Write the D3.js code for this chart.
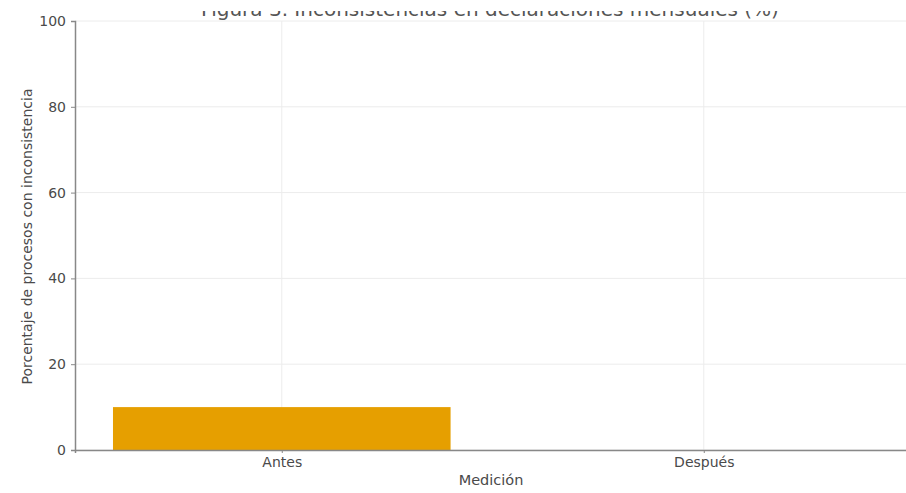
<!DOCTYPE html>
<html>
<head>
<meta charset="utf-8">
<script src="https://cdn.jsdelivr.net/npm/d3@7"></script>
<style>
  body { margin: 0; background: #fff; }
  text { font-family: "DejaVu Sans", sans-serif; }
</style>
</head>
<body>
<div id="chart"></div>
<script>
// data
var categories = ["Antes", "Después"];
var values = [10, 0];
var yTicks = [0, 20, 40, 60, 80, 100];
var titleText = "Figura 3. Inconsistencias en declaraciones mensuales (%)";
var xLabel = "Medición";
var yLabel = "Porcentaje de procesos con inconsistencia";

var width = 906, height = 493;
var plotLeft = 75, plotTop = 21, plotBottom = 450;

var svg = d3.select("#chart").append("svg")
    .attr("width", width)
    .attr("height", height);

// matplotlib-like linear x: bars at 0 and 1, xlim -0.49..1.49
var x = d3.scaleLinear().domain([-0.49, 1.49]).range([plotLeft, plotLeft + 1.98 * 422]);
var y = d3.scaleLinear().domain([0, 100]).range([plotBottom, plotTop]);
var barW = 0.8;

// grid
svg.append("g").selectAll("line")
    .data(yTicks)
    .enter().append("line")
    .attr("x1", plotLeft).attr("x2", width)
    .attr("y1", function (d) { return y(d); })
    .attr("y2", function (d) { return y(d); })
    .attr("stroke", "#ececec").attr("stroke-width", 1);

svg.append("g").selectAll("line")
    .data(categories)
    .enter().append("line")
    .attr("x1", function (d, i) { return x(i); })
    .attr("x2", function (d, i) { return x(i); })
    .attr("y1", plotTop).attr("y2", plotBottom)
    .attr("stroke", "#ececec").attr("stroke-width", 1);

// bars
svg.append("g").selectAll("rect")
    .data(values)
    .enter().append("rect")
    .attr("x", function (d, i) { return x(i - barW / 2); })
    .attr("width", function () { return x(barW) - x(0); })
    .attr("y", function (d) { return y(d); })
    .attr("height", function (d) { return y(0) - y(d); })
    .attr("fill", "#E69F00");

// y axis
var yAxis = d3.axisLeft(y).tickValues(yTicks).tickSize(4).tickPadding(5);
var gy = svg.append("g").attr("transform", "translate(" + plotLeft + ",0)").call(yAxis);
gy.select(".domain").attr("stroke", "#888").attr("stroke-width", 1.5);
gy.selectAll(".tick line").attr("stroke", "#888");
gy.selectAll(".tick text").attr("font-size", 14).attr("fill", "#4a4a4a")
    .attr("font-family", "DejaVu Sans");

// x axis
var xAxis = d3.axisBottom(x).tickValues([0, 1])
    .tickFormat(function (d) { return categories[d]; })
    .tickSize(3).tickPadding(4);
var gx = svg.append("g").attr("transform", "translate(0," + plotBottom + ")").call(xAxis);
gx.select(".domain").attr("stroke", "#888").attr("stroke-width", 1.5);
gx.selectAll(".tick line").attr("stroke", "#888");
gx.selectAll(".tick text").attr("font-size", 14).attr("fill", "#4a4a4a")
    .attr("font-family", "DejaVu Sans");

// axis labels
svg.append("text")
    .attr("x", 491).attr("y", 485)
    .attr("text-anchor", "middle")
    .attr("font-size", 14.5).attr("fill", "#4a4a4a")
    .text(xLabel);

svg.append("text")
    .attr("transform", "translate(32," + ((plotTop + plotBottom) / 2 + 1) + ") rotate(-90)")
    .attr("text-anchor", "middle")
    .attr("font-size", 14).attr("fill", "#4a4a4a")
    .text(yLabel);

// title, cropped at the top like the picture
svg.append("defs").append("clipPath").attr("id", "titleClip")
    .append("rect").attr("x", 0).attr("y", 11).attr("width", width).attr("height", 12);

svg.append("text")
    .attr("clip-path", "url(#titleClip)")
    .attr("x", 490).attr("y", 16)
    .attr("text-anchor", "middle")
    .attr("font-size", 20).attr("fill", "#555")
    .text(titleText);
</script>
</body>
</html>
